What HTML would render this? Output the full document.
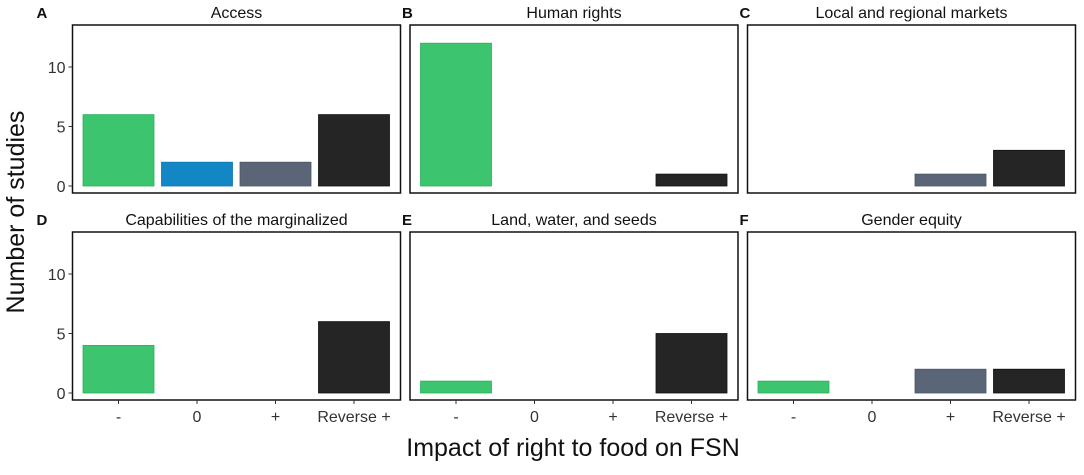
<!DOCTYPE html>
<html><head><meta charset="utf-8"><style>
body{margin:0;background:#fff;font-family:"Liberation Sans",Arial,sans-serif}
</style></head><body>
<svg id="c" width="1084" height="470" xmlns="http://www.w3.org/2000/svg" font-family="Liberation Sans, Arial, sans-serif"></svg>
<script>
const categories=["-","0","+","Reverse +"];
const panelTitles=["Access","Human rights","Local and regional markets","Capabilities of the marginalized","Land, water, and seeds","Gender equity"];
const panelLetters=["A","B","C","D","E","F"];
const valuesA=[6,2,2,6];
const valuesB=[12,0,0,1];
const valuesC=[0,0,1,3];
const valuesD=[4,0,0,6];
const valuesE=[1,0,0,5];
const valuesF=[1,0,2,2];
const yTicks=[0,5,10];
const fills=["#3cc46e","#1387c5","#5a6678","#252525"];
const strokes=["#2fb05e","#0f74ab","#4a5565","#111"];
const allValues=[valuesA,valuesB,valuesC,valuesD,valuesE,valuesF];
const svg=document.getElementById('c');const NS="http://www.w3.org/2000/svg";
function mk(t,a,p){const e=document.createElementNS(NS,t);for(const k in a)e.setAttribute(k,a[k]);(p||svg).appendChild(e);return e;}
const px0=[72.5,410,747.5],pw=328,rowTop=[25,232],ph=168;
const yUnit=11.9;
function yScale(v,r){return rowTop[r]+161-v*yUnit;}
function xScale(i,c){return px0[c]+46+i*78.5;}
for(let p=0;p<6;p++){
 const r=Math.floor(p/3),c=p%3;
 const g=mk('g',{});
 
 
 const fr=mk('rect',{x:px0[c],y:rowTop[r],width:pw,height:ph,fill:'none',stroke:'#111','stroke-width':1.5},g);
 
 const tt=mk('text',{x:px0[c]+pw/2,y:rowTop[r]-7,'text-anchor':'middle','font-size':16,fill:'#111'},g);tt.textContent=panelTitles[p];
 
 const lt=mk('text',{x:px0[c]-36+(c?28:0),y:rowTop[r]-7,'font-size':15,'font-weight':'bold',fill:'#111'},g);lt.textContent=panelLetters[p];
 
 const vals=allValues[p];
 vals.forEach((v,i)=>{ if(v<=0)return;
  const y0=yScale(0,r),y1=yScale(v,r);
  const b=mk('rect',{x:xScale(i,c)-35.5,y:y1,width:71,height:y0-y1,fill:fills[i],stroke:strokes[i],'stroke-width':0.8},g);
  
 });
 if(c===0){yTicks.forEach(t=>{const y=yScale(t,r);
  mk('line',{x1:px0[0]-4,x2:px0[0],y1:y,y2:y,stroke:'#333','stroke-width':1},g);
  const tl=mk('text',{x:px0[0]-7,y:y+6,'text-anchor':'end','font-size':16,fill:'#333'},g);tl.textContent=t;
  });}
 if(r===1){categories.forEach((k,i)=>{const x=xScale(i,c);
  mk('line',{x1:x,x2:x,y1:rowTop[1]+ph,y2:rowTop[1]+ph+4,stroke:'#333','stroke-width':1},g);
  const xl=mk('text',{x:x,y:rowTop[1]+ph+22,'text-anchor':'middle','font-size':16,fill:'#333'},g);xl.textContent=k;
  });}
}
const xt=mk('text',{x:573,y:456,'text-anchor':'middle','font-size':25,fill:'#111'});xt.textContent="Impact of right to food on FSN";

const yt=mk('text',{x:0,y:0,'text-anchor':'middle','font-size':25,fill:'#111',transform:'translate(24,212) rotate(-90)'});yt.textContent="Number of studies";

</script>
</body></html>
